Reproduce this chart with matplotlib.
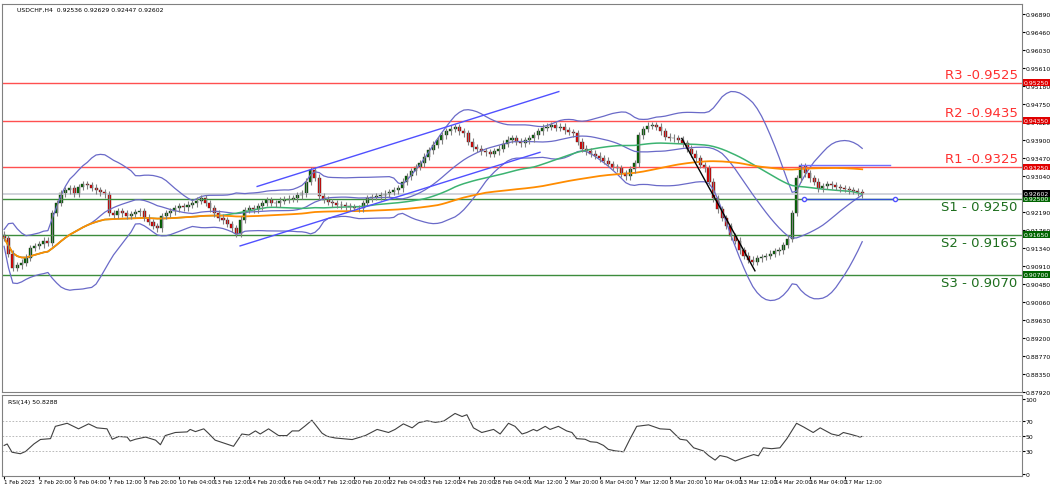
import numpy as np
import pandas as pd
import matplotlib
matplotlib.use("Agg")
import matplotlib.pyplot as plt

closes = [
0.9157, 0.9120, 0.9086, 0.9092, 0.9098, 0.9110, 0.9133, 0.9138, 0.9142, 0.9150,
0.9145, 0.9216, 0.9240, 0.9263, 0.9270, 0.9275, 0.9262, 0.9278, 0.9285, 0.9282,
0.9276, 0.9270, 0.9265, 0.9260, 0.9216, 0.9212, 0.9220, 0.9215, 0.9209, 0.9214,
0.9218, 0.9220, 0.9205, 0.9195, 0.9185, 0.9180, 0.9209, 0.9215, 0.9220, 0.9227,
0.9232, 0.9230, 0.9236, 0.9239, 0.9245, 0.9251, 0.9240, 0.9227, 0.9215, 0.9205,
0.9199, 0.9190, 0.9180, 0.9166, 0.9200, 0.9223, 0.9228, 0.9225, 0.9232, 0.9240,
0.9246, 0.9240, 0.9239, 0.9245, 0.9248, 0.9250, 0.9251, 0.9258, 0.9263, 0.9290,
0.9317, 0.9300, 0.9256, 0.9248, 0.9242, 0.9239, 0.9236, 0.9234, 0.9232, 0.9230,
0.9228, 0.9227, 0.9240, 0.9251, 0.9254, 0.9256, 0.9258, 0.9262, 0.9266, 0.9270,
0.9275, 0.9290, 0.9303, 0.9315, 0.9325, 0.9334, 0.9350, 0.9365, 0.9378, 0.9388,
0.9400, 0.9410, 0.9416, 0.9420, 0.9410, 0.9405, 0.9385, 0.9372, 0.9369, 0.9362,
0.9360, 0.9357, 0.9362, 0.9369, 0.9380, 0.9390, 0.9393, 0.9385, 0.9381, 0.9388,
0.9393, 0.9400, 0.9410, 0.9418, 0.9421, 0.9424, 0.9418, 0.9421, 0.9412, 0.9408,
0.9405, 0.9385, 0.9369, 0.9362, 0.9357, 0.9352, 0.9346, 0.9340, 0.9332, 0.9325,
0.9322, 0.9310, 0.9303, 0.9320, 0.9334, 0.9400, 0.9415, 0.9423, 0.9425, 0.9421,
0.9410, 0.9397, 0.9395, 0.9393, 0.9390, 0.9381, 0.9369, 0.9357, 0.9346, 0.9330,
0.9322, 0.9290, 0.9251, 0.9225, 0.9204, 0.9185, 0.9161, 0.9150, 0.9128, 0.9115,
0.9105, 0.9100, 0.9109, 0.9112, 0.9114, 0.9120, 0.9125, 0.9128, 0.9140, 0.9155,
0.9216, 0.9298, 0.9327, 0.9310, 0.9298, 0.9290, 0.9275, 0.9280, 0.9285, 0.9282,
0.9278, 0.9275, 0.9273, 0.9270, 0.9268, 0.9265, 0.9260]
first_open = 0.9165
wick = 0.0008

rsi_idx = [0, 0.7, 1.8, 3.7, 4.9, 6.8, 8.3, 10.6, 11.7, 14.4, 17.0, 19.3, 21.2, 23.5,
    24.7, 26.2, 28.1, 28.8, 30.0, 32.3, 34.6, 35.7, 36.8, 39.1, 41.8, 42.5, 43.7, 45.6,
    46.7, 48.2, 52.4, 54.3, 55.9, 57.4, 58.5, 60.4, 62.7, 64.6, 65.8, 67.3, 68.8, 70.3,
    72.6, 73.7, 75.6, 79.5, 82.5, 85.2, 87.8, 89.3, 91.2, 93.2, 94.7, 96.6, 98.5, 100.4,
    103.0, 104.6, 105.7, 107.2, 109.1, 111.8, 113.3, 115.2, 116.7, 118.3, 119.4, 120.9,
    121.7, 123.6, 124.7, 126.6, 128.5, 129.7, 130.8, 132.7, 133.9, 135.4, 136.9, 138.0,
    139.6, 141.5, 143.0, 144.5, 147.2, 149.8, 152.1, 154.4, 155.9, 157.5, 159.7, 160.9,
    162.4, 163.5, 165.1, 167.0, 168.5, 171.2, 172.3, 173.4, 175.3, 177.2, 178.8, 181.0,
    182.6, 184.8, 186.4, 189.0, 190.6, 191.7, 193.6, 195.5, 195.9]
rsi_vals = [38, 40, 29, 27, 30, 40, 46, 47.1, 63.5, 67.6, 60.2, 66.8, 61.5, 60.2,
    46.3, 50, 49.2, 43.9, 46.3, 49.2, 45.1, 39.0, 51.2, 55.3, 56.1, 59.4, 56.5, 60.2,
    54.1, 45.1, 36.9, 53.3, 52.0, 57.4, 53.3, 60.2, 51.2, 51.2, 57.4, 57.4, 64.3, 71.7,
    54.5, 50.4, 48.0, 45.9, 51.2, 59.4, 55.3, 59.4, 66.8, 61.5, 68.4, 70.9, 68.8, 70.5,
    80.7, 76.6, 79.0, 61.5, 55.3, 59.4, 53.3, 67.6, 63.5, 53.3, 55.3, 59.4,
    57.4, 63.5, 59.4, 63.5, 57.4, 55.3, 47.1, 46.3, 43.0, 42.2, 38.1, 32.8,
    30.8, 29.6, 47.1, 63.5, 65.5, 60.2, 59.4, 46.3, 45.1, 34.9, 30.8, 24.6,
    18.5, 24.6, 22.6, 17.3, 20.6, 25.9, 24.2, 34.9, 33.7, 34.9, 47.1, 67.6,
    62.7, 55.3, 61.5, 53.3, 51.2, 55.3, 52.5, 49.2, 50.0]

tick_labels = ["1 Feb 2023", "2 Feb 20:00", "6 Feb 04:00", "7 Feb 12:00", "8 Feb 20:00",
    "10 Feb 04:00", "13 Feb 12:00", "14 Feb 20:00", "16 Feb 04:00", "17 Feb 12:00",
    "20 Feb 20:00", "22 Feb 04:00", "23 Feb 12:00", "24 Feb 20:00", "28 Feb 04:00",
    "1 Mar 12:00", "2 Mar 20:00", "6 Mar 04:00", "7 Mar 12:00", "8 Mar 20:00",
    "10 Mar 04:00", "13 Mar 12:00", "14 Mar 20:00", "16 Mar 04:00", "17 Mar 12:00"]
resistance = [("R3", 0.9525), ("R2", 0.9435), ("R1", 0.9325)]
support = [("S1", 0.9250), ("S2", 0.9165), ("S3", 0.9070)]
price_ticks = [0.96890, 0.96460, 0.96030, 0.95610, 0.95180, 0.94750, 0.94320, 0.93900,
    0.93470, 0.93040, 0.92610, 0.92190, 0.91760, 0.91340, 0.90910, 0.90480, 0.90060,
    0.89630, 0.89200, 0.88770, 0.88350, 0.87920]
up_upper = [(57.8, 0.9279), (126.7, 0.9504)]
up_lower = [(53.9, 0.9138), (122.4, 0.9360)]
down_line = [(154.8, 0.9393), (171.5, 0.9079)]
hz_r = [(181.5, 0.9329), (202.3, 0.9329)]
hz_s = [(182.6, 0.9249), (203.4, 0.9249)]
last_price = 0.92602

c = np.array(closes)
o = np.concatenate([[first_open], c[:-1]])
hi = np.maximum(o, c) + wick
lo = np.minimum(o, c) - wick
idx = np.arange(len(c))
s = pd.Series(c)
mid = s.rolling(20, min_periods=1).mean()
sd = s.rolling(20, min_periods=1).std().fillna(0.001)
bb_u, bb_l = mid + 2 * sd, mid - 2 * sd
ma_g = s.rolling(50, min_periods=1).mean()
ma_o = s.rolling(100, min_periods=1).mean()

fig = plt.figure(figsize=(10.51, 4.85), dpi=100)
ax = fig.add_axes([0.002, 0.19, 0.970, 0.80])
ax2 = fig.add_axes([0.002, 0.0165, 0.970, 0.167])
xlim = (-0.46, 232.4)
ax.set_xlim(*xlim); ax2.set_xlim(*xlim)
ax.set_ylim(0.87920, 0.97120)
ax2.set_ylim(-2.7, 105.3)

fs = 4.4
for name, v in resistance:
    ax.axhline(v, color="#ff5050", lw=1)
    ax.text(231.5, v + 0.0004, f"{name} -{v:.4f}", color="#ff3030", ha="right", va="bottom", fontsize=9.5)
    ax.text(232.9, v, f"{v:.5f}", color="white", fontsize=fs, va="center", ha="left",
            bbox=dict(boxstyle="square,pad=0.15", fc="#e00000", ec="none"), clip_on=False, zorder=5)
for name, v in support:
    ax.axhline(v, color="#3c8c3c", lw=1)
    ax.text(231.5, v - 0.0004, f"{name} - {v:.4f}", color="#1e6e1e", ha="right", va="top", fontsize=9.5)
    ax.text(232.9, v, f"{v:.5f}", color="white", fontsize=fs, va="center", ha="left",
            bbox=dict(boxstyle="square,pad=0.15", fc="#006400", ec="none"), clip_on=False, zorder=5)
ax.axhline(last_price, color="#c8ccd4", lw=1.2)
ax.text(232.9, last_price + 0.0003, f"{last_price:.5f}", color="white", fontsize=fs, va="center", ha="left",
        bbox=dict(boxstyle="square,pad=0.15", fc="black", ec="none"), clip_on=False, zorder=5)

ax.plot(idx, bb_u, color="#6a6ac8", lw=0.9)
ax.plot(idx, bb_l, color="#6a6ac8", lw=0.9)
ax.plot(idx, mid, color="#6a6ac8", lw=0.9)
ax.plot(idx, ma_g, color="#3cb371", lw=1.1)
ax.plot(idx, ma_o, color="#ff8c00", lw=1.3)

for i in idx:
    col = "#006400" if c[i] >= o[i] else "#e00000"
    ax.vlines(i, lo[i], hi[i], color="#808080", lw=0.8)
    h = abs(c[i] - o[i]) or 0.00005
    ax.bar(i, h, bottom=min(o[i], c[i]), width=0.7, color=col, edgecolor="#303030", lw=0.3)

for ln, col in [(up_upper, "#5050ff"), (up_lower, "#5050ff"), (down_line, "black"), (hz_r, "#7070ff")]:
    ax.plot([p[0] for p in ln], [p[1] for p in ln], color=col, lw=1)
ax.plot([p[0] for p in hz_s], [p[1] for p in hz_s], color="#3050d0", lw=1, marker="o",
        ms=3, mfc="white", mec="#5050ff")

ax.yaxis.tick_right()
ax.set_yticks(price_ticks)
ax.set_yticklabels([f"{t:.5f}" for t in price_ticks], fontsize=fs)
ax.set_xticks([])
ax.tick_params(axis="y", length=2, pad=1)
ax.text(3, 0.9699, "USDCHF,H4  0.92536 0.92629 0.92447 0.92602", fontsize=fs, va="center")

ax2.plot(rsi_idx, rsi_vals, color="#404040", lw=0.8)
for lv in (30, 50, 70):
    ax2.axhline(lv, color="#b0b0b0", lw=0.6, ls=(0, (2, 2)))
ax2.yaxis.tick_right()
ax2.set_yticks([0, 30, 50, 70, 100])
ax2.set_yticklabels(["0", "30", "50", "70", "100"], fontsize=fs)
ax2.tick_params(axis="y", length=2, pad=1)
ax2.set_xticks(np.arange(0, 8 * len(tick_labels), 8))
ax2.set_xticklabels(tick_labels, fontsize=4.0, ha="left")
ax2.tick_params(axis="x", length=2, pad=0.5)
ax2.text(1, 96, "RSI(14) 50.8288", fontsize=fs, va="center")
for a in (ax, ax2):
    for sp in a.spines.values():
        sp.set_color("#808080")

fig.savefig("out.png", dpi=100)
